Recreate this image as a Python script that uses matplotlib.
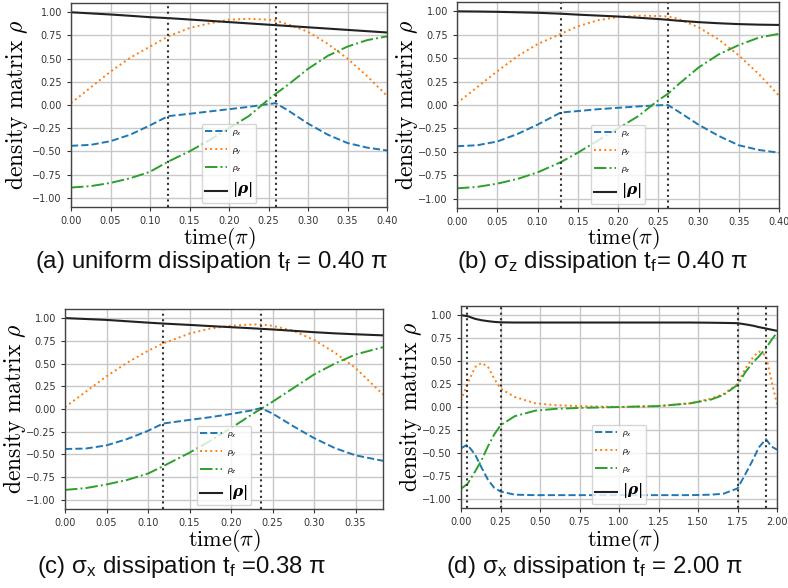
import matplotlib
matplotlib.use("Agg")
import matplotlib.pyplot as plt

# ---------------- data ----------------
# (a) uniform dissipation, tf = 0.40 pi
t_a = [0, 0.025, 0.05, 0.075, 0.1, 0.123, 0.15, 0.175, 0.2, 0.225, 0.25, 0.259, 0.275, 0.3, 0.325, 0.35, 0.375, 0.4]
rx_a = [-0.44, -0.43, -0.39, -0.32, -0.22, -0.12, -0.095, -0.07, -0.045, -0.02, 0.01, 0.02, -0.06, -0.20, -0.32, -0.41, -0.46, -0.49]
ry_a = [0.02, 0.19, 0.36, 0.51, 0.63, 0.74, 0.83, 0.88, 0.92, 0.93, 0.92, 0.91, 0.87, 0.79, 0.66, 0.50, 0.31, 0.10]
rz_a = [-0.89, -0.875, -0.84, -0.79, -0.72, -0.61, -0.50, -0.38, -0.25, -0.12, 0.06, 0.12, 0.22, 0.39, 0.53, 0.63, 0.70, 0.74]
rn_a = [1.0, 0.988, 0.976, 0.962, 0.947, 0.937, 0.922, 0.908, 0.894, 0.880, 0.866, 0.861, 0.852, 0.838, 0.824, 0.81, 0.796, 0.782]
vl_a = [0.123, 0.259]

# (b) sigma_z dissipation, tf = 0.40 pi
t_b = [0, 0.025, 0.05, 0.075, 0.1, 0.129, 0.15, 0.175, 0.2, 0.225, 0.25, 0.262, 0.275, 0.3, 0.325, 0.35, 0.375, 0.4]
rx_b = [-0.44, -0.43, -0.39, -0.31, -0.21, -0.08, -0.065, -0.045, -0.03, -0.015, -0.003, 0.0, -0.07, -0.21, -0.33, -0.43, -0.48, -0.51]
ry_b = [0.02, 0.19, 0.36, 0.52, 0.65, 0.76, 0.84, 0.905, 0.94, 0.955, 0.95, 0.945, 0.92, 0.83, 0.70, 0.53, 0.33, 0.10]
rz_b = [-0.89, -0.875, -0.84, -0.79, -0.72, -0.61, -0.51, -0.38, -0.25, -0.12, 0.05, 0.12, 0.22, 0.40, 0.54, 0.64, 0.72, 0.76]
rn_b = [1.0, 0.998, 0.995, 0.99, 0.985, 0.975, 0.965, 0.955, 0.945, 0.932, 0.918, 0.91, 0.90, 0.885, 0.873, 0.864, 0.858, 0.855]
vl_b = [0.129, 0.262]

# (c) sigma_x dissipation, tf = 0.38 pi
t_c = [0, 0.025, 0.05, 0.075, 0.1, 0.118, 0.15, 0.175, 0.2, 0.225, 0.236, 0.25, 0.275, 0.3, 0.325, 0.35, 0.383]
rx_c = [-0.44, -0.435, -0.40, -0.33, -0.24, -0.16, -0.12, -0.09, -0.055, -0.015, 0.01, -0.05, -0.19, -0.32, -0.43, -0.51, -0.57]
ry_c = [0.02, 0.19, 0.36, 0.51, 0.64, 0.72, 0.83, 0.885, 0.915, 0.93, 0.93, 0.915, 0.86, 0.76, 0.62, 0.45, 0.16]
rz_c = [-0.89, -0.87, -0.83, -0.78, -0.71, -0.63, -0.48, -0.35, -0.21, -0.06, 0.0, 0.08, 0.23, 0.38, 0.50, 0.60, 0.68]
rn_c = [1.0, 0.99, 0.98, 0.965, 0.95, 0.94, 0.925, 0.912, 0.90, 0.888, 0.882, 0.875, 0.86, 0.845, 0.832, 0.822, 0.81]
vl_c = [0.118, 0.236]

# (d) sigma_x dissipation, tf = 2.00 pi
t_d = [0, 0.04, 0.09, 0.13, 0.17, 0.21, 0.25, 0.34, 0.47, 0.6, 0.75, 1.0, 1.25, 1.45, 1.58, 1.66, 1.75, 1.80, 1.85, 1.885, 1.93, 1.965, 2.0]
rx_d = [-0.45, -0.41, -0.52, -0.66, -0.79, -0.88, -0.92, -0.955, -0.96, -0.96, -0.96, -0.96, -0.96, -0.96, -0.955, -0.945, -0.887, -0.73, -0.567, -0.44, -0.35, -0.43, -0.465]
ry_d = [0.07, 0.25, 0.435, 0.48, 0.44, 0.31, 0.20, 0.11, 0.04, 0.02, 0.01, 0.0, 0.01, 0.04, 0.09, 0.14, 0.25, 0.42, 0.545, 0.605, 0.56, 0.29, 0.03]
rz_d = [-0.89, -0.84, -0.70, -0.58, -0.43, -0.30, -0.20, -0.10, -0.04, -0.02, -0.01, 0.0, 0.01, 0.04, 0.08, 0.13, 0.24, 0.38, 0.49, 0.55, 0.64, 0.73, 0.81]
rn_d = [1.0, 0.99, 0.96, 0.945, 0.935, 0.927, 0.922, 0.92, 0.92, 0.92, 0.92, 0.92, 0.92, 0.92, 0.918, 0.916, 0.913, 0.90, 0.885, 0.87, 0.855, 0.842, 0.83]
vl_d = [0.04, 0.25, 1.75, 1.93]

xmax = [0.40, 0.40, 0.383, 2.00]
yticks = [-1.0, -0.75, -0.5, -0.25, 0.0, 0.25, 0.5, 0.75, 1.0]
xticks = [
    [0.0, 0.05, 0.1, 0.15, 0.2, 0.25, 0.3, 0.35, 0.4],
    [0.0, 0.05, 0.1, 0.15, 0.2, 0.25, 0.3, 0.35, 0.4],
    [0.0, 0.05, 0.1, 0.15, 0.2, 0.25, 0.3, 0.35],
    [0.0, 0.25, 0.5, 0.75, 1.0, 1.25, 1.5, 1.75, 2.0],
]
captions = [
    ["(a) uniform dissipation ", r"$\mathrm{t}_\mathrm{f}$", " = 0.40 π"],
    ["(b) ", r"$\mathrm{σ}_\mathrm{z}$", " dissipation ", r"$\mathrm{t}_\mathrm{f}$", "= 0.40 π"],
    ["(c) ", r"$\mathrm{σ}_\mathrm{x}$", " dissipation ", r"$\mathrm{t}_\mathrm{f}$", " =0.38 π"],
    ["(d) ", r"$\mathrm{σ}_\mathrm{x}$", " dissipation ", r"$\mathrm{t}_\mathrm{f}$", " = 2.00 π"],
]
legend_labels = [r"$\rho_x$", r"$\rho_y$", r"$\rho_z$", r"$|\mathbfit{\rho}|$"]

panels = [
    (t_a, rx_a, ry_a, rz_a, rn_a, vl_a),
    (t_b, rx_b, ry_b, rz_b, rn_b, vl_b),
    (t_c, rx_c, ry_c, rz_c, rn_c, vl_c),
    (t_d, rx_d, ry_d, rz_d, rn_d, vl_d),
]

# ---------------- layout (pixels) ----------------
W, H = 788, 588
boxes = [  # left, top, right, bottom in pixels
    (71, 3, 387, 207),
    (457, 2, 779, 208),
    (65, 309, 383, 509),
    (461, 306, 777, 508),
]
ylabel_x = [17, 407, 15, 411]
xlabel_pos = [(219, 238), (623, 238), (224, 540), (623, 540)]
caption_pos = [(212, 262), (602, 262), (182, 567), (595, 567)]

plt.rcParams["mathtext.fontset"] = "custom"
plt.rcParams["mathtext.rm"] = "Liberation Sans"
plt.rcParams["mathtext.it"] = "Liberation Sans:italic"
plt.rcParams["mathtext.bf"] = "Liberation Sans:bold"

fig = plt.figure(figsize=(W / 100, H / 100), dpi=100)

for i, (t, rx, ry, rz, rn, vl) in enumerate(panels):
    l, tp, r, b = boxes[i]
    ax = fig.add_axes([l / W, 1 - b / H, (r - l) / W, (b - tp) / H])
    ax.plot(t, rx, linestyle="--", color="#1f77b4", lw=1.4, label=legend_labels[0])
    ax.plot(t, ry, linestyle=":", color="#ff7f0e", lw=1.4, label=legend_labels[1])
    ax.plot(t, rz, linestyle="-.", color="#2ca02c", lw=1.4, label=legend_labels[2])
    ax.plot(t, rn, linestyle="-", color="#222222", lw=1.5, label=legend_labels[3])
    for v in vl:
        ax.axvline(v, color="#333333", linestyle=":", lw=1.5)
    ax.set_xlim(0, xmax[i])
    ax.set_ylim(-1.1, 1.1)
    ax.set_xticks(xticks[i])
    ax.set_yticks(yticks)
    ax.xaxis.set_major_formatter(matplotlib.ticker.FormatStrFormatter("%.2f"))
    ax.yaxis.set_major_formatter(matplotlib.ticker.FuncFormatter(lambda v, p: ("%.2f" % v).replace("-", "\u2212")))
    ax.tick_params(labelsize=7, colors="#333333", length=3, width=0.8)
    ax.grid(True, color="#c8c8c8", lw=1.0)
    ax.set_axisbelow(True)
    for s in ax.spines.values():
        s.set_color("#444444")
        s.set_linewidth(1.0)

    # axis labels (serif math style)
    xl, yl = xlabel_pos[i]
    ax.set_xlabel(r"$\mathrm{time}(\pi)$", fontsize=16, math_fontfamily="cm", va="center", ha="center")
    ax.xaxis.set_label_coords(xl / W, 1 - yl / H, transform=fig.transFigure)
    ax.set_ylabel(r"$\mathrm{density\ matrix}\ \rho$", fontsize=17, math_fontfamily="cm", va="center", ha="center")
    ax.yaxis.set_label_coords(ylabel_x[i] / W, 1 - ((tp + b) / 2) / H, transform=fig.transFigure)

    leg = ax.legend(loc="lower center", fontsize=6, handlelength=2.7, handletextpad=0.6,
                    framealpha=0.8, edgecolor="#cccccc", borderpad=0.4, labelspacing=0.8)
    leg.get_texts()[3].set_fontsize(11)
    leg.get_texts()[3].set_math_fontfamily("dejavuserif")

    # caption
    cx, cy = caption_pos[i]
    fig.text(cx / W, 1 - cy / H, "".join(captions[i]), fontsize=17.3, family="Liberation Sans",
             ha="center", va="center", color="#111111")

fig.savefig("out.png", dpi=100)
